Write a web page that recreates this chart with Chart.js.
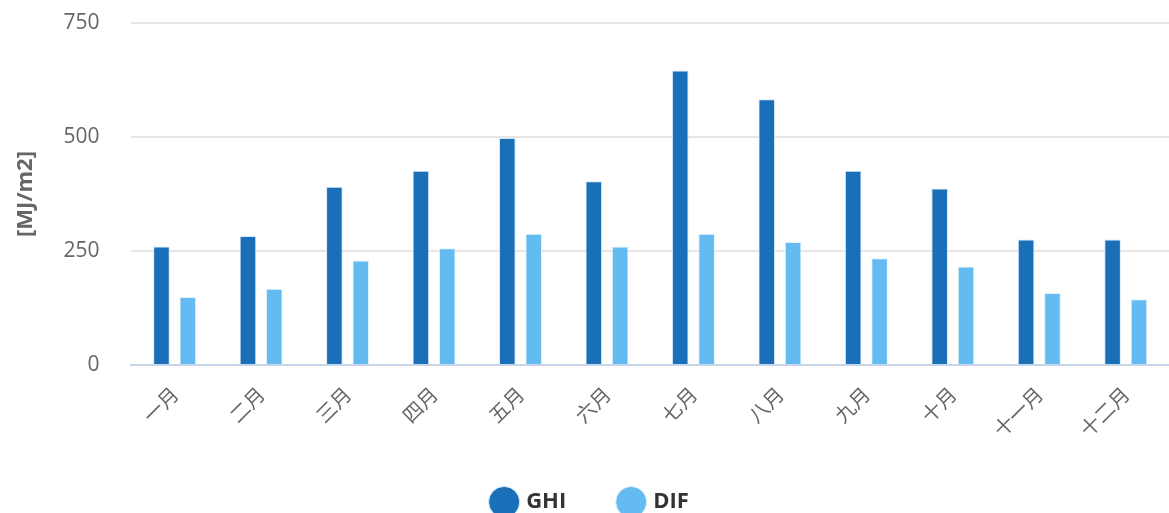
<!DOCTYPE html>
<html>
<head>
<meta charset="utf-8">
<script src="https://cdn.jsdelivr.net/npm/chart.js@4/dist/chart.umd.min.js"></script>
<style>
  html, body { margin: 0; padding: 0; background: #fff; overflow: hidden; }
  #wrap { width: 1169px; height: 523px; }
</style>
</head>
<body>
<div id="wrap"><canvas id="grafico"></canvas></div>
<script>
const meses = ['一月', '二月', '三月', '四月', '五月', '六月', '七月', '八月', '九月', '十月', '十一月', '十二月'];
const ghi = [260, 283, 391, 426, 498, 403, 646, 583, 426, 387, 275, 275];
const dif = [149, 167, 229, 256, 288, 260, 288, 270, 234, 216, 158, 144];
const yTicks = [0, 250, 500, 750];

const fonteBase = "'Open Sans', 'Noto Sans CJK SC', sans-serif";

new Chart(document.getElementById('grafico').getContext('2d'), {
    type: 'bar',
    data: {
        labels: meses,
        datasets: [{
            label: 'GHI',
            data: ghi,
            backgroundColor: '#1a6fb9',
            borderColor: '#d6e8f8',
            borderWidth: 1,
            barPercentage: 0.63,
            categoryPercentage: 0.61
        }, {
            label: 'DIF',
            data: dif,
            backgroundColor: '#63bbf2',
            borderColor: '#e3f3fd',
            borderWidth: 1,
            barPercentage: 0.63,
            categoryPercentage: 0.61
        }]
    },
    options: {
        responsive: true,
        maintainAspectRatio: false,
        animation: false,
        layout: { padding: { top: 23, right: 0, bottom: 0, left: 13 } },
        plugins: {
            legend: {
                position: 'bottom',
                labels: {
                    usePointStyle: true,
                    pointStyle: 'circle',
                    boxWidth: 25,
                    boxHeight: 25,
                    padding: 54,
                    color: '#333',
                    font: { family: fonteBase, size: 22, weight: 'bold' }
                }
            },
            tooltip: { enabled: false }
        },
        scales: {
            x: {
                grid: { display: false, drawTicks: false },
                border: { color: '#c8d4e8', width: 2 },
                ticks: {
                    minRotation: 45,
                    maxRotation: 45,
                    padding: 17,
                    color: '#666',
                    font: { family: "'Noto Sans CJK SC', sans-serif", size: 20 }
                },
                afterFit: axis => { axis.height = 72; }
            },
            y: {
                min: 0,
                max: 750,
                afterBuildTicks: axis => { axis.ticks = yTicks.map(v => ({ value: v })); },
                grid: { color: '#e6e6e6', lineWidth: 2, drawTicks: true, tickLength: 29, tickColor: 'transparent' },
                border: { display: false },
                ticks: {
                    padding: 3,
                    color: '#666',
                    font: { family: fonteBase, size: 21, lineHeight: 1 }
                },
                title: {
                    display: true,
                    text: '[MJ/m2]',
                    color: '#666',
                    font: { family: fonteBase, size: 22, weight: 'bold' },
                    padding: { top: 0, bottom: 21 }
                }
            }
        }
    }
});
</script>
</body>
</html>
